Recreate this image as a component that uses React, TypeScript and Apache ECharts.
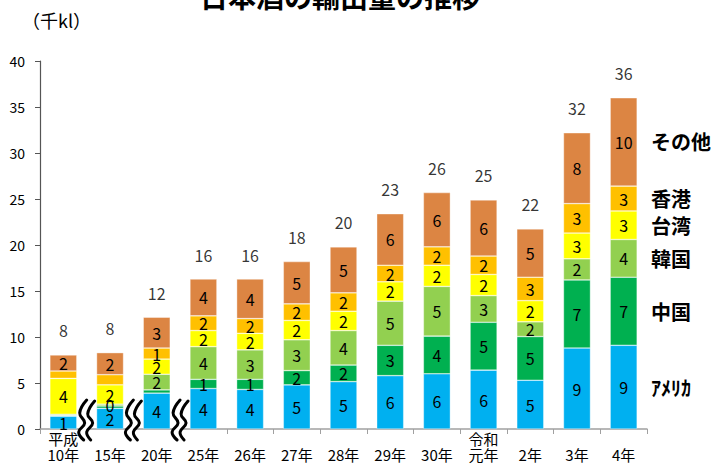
import React, { useEffect, useRef } from "react";
import * as echarts from "echarts";

const categories = [
  "平成\n10年", "\n15年", "\n20年", "\n25年", "\n26年", "\n27年", "\n28年",
  "\n29年", "\n30年", "令和\n元年", "\n2年", "\n3年", "\n4年",
];
const seriesNames = ["アメリカ", "中国", "韓国", "台湾", "香港", "その他"];
const annotationLabels = ["ｱﾒﾘｶ", "中国", "韓国", "台湾", "香港", "その他"];
const usa = [1.4, 2.25, 3.9, 4.4, 4.3, 4.8, 5.15, 5.8, 6.0, 6.4, 5.3, 8.8, 9.1];
const china = [0.1, 0.25, 0.35, 1.0, 1.1, 1.55, 1.8, 3.3, 4.1, 5.2, 4.75, 7.4, 7.4];
const korea = [0.1, 0.2, 1.7, 3.55, 3.2, 3.35, 3.75, 4.8, 5.4, 2.9, 1.6, 2.3, 4.1];
const taiwan = [3.9, 2.1, 1.65, 1.75, 1.8, 2.1, 2.1, 2.1, 2.3, 2.3, 2.3, 2.8, 3.1];
const hongkong = [0.8, 1.1, 1.2, 1.6, 1.6, 1.8, 2.0, 1.8, 2.0, 2.0, 2.55, 3.2, 2.7];
const others = [1.75, 2.4, 3.35, 4.0, 4.3, 4.6, 5.0, 5.6, 5.9, 6.1, 5.25, 7.7, 9.6];
const seriesValues = [usa, china, korea, taiwan, hongkong, others];
// [seriesIndex, categoryIndex] whose value label is not shown
const hiddenLabels = [[1, 0], [2, 0], [4, 0], [1, 1], [4, 1], [1, 2]];
// break marks sit between these category pairs
const breakAfter = [0, 1, 2];

const colors = ["#00B0F0", "#00B050", "#92D050", "#FFFF00", "#FFC000", "#DC8543"];
const FONT = "'Noto Sans CJK JP', 'Noto Sans', sans-serif";

// wavy break-mark outline (relative to the mark's centre)
const waveL = [[0, -20], [-7, -7], [-2, 3], [-8, 12], [-3, 20]];
const waveR = [[8, -19], [1, -6], [6, 3], [0, 12], [4, 20]];

export default function App() {
  const ref = useRef<HTMLDivElement>(null);
  useEffect(() => {
    if (!ref.current) return;
    const chart = echarts.init(ref.current, undefined, { renderer: "svg" });
    const totals = categories.map((_, i) => seriesValues.reduce((s, arr) => s + arr[i], 0));
    const series: any[] = seriesValues.map((vals, si) => ({
      name: seriesNames[si],
      type: "bar",
      stack: "total",
      barWidth: 27,
      itemStyle: { color: colors[si], borderColor: "rgba(255,255,255,0.6)", borderWidth: 0.6 },
      label: {
        show: true,
        position: "inside",
        color: "#000",
        fontSize: 16,
        fontFamily: FONT,
        formatter: (p: any) => String(Math.round(p.value)),
      },
      data: vals.map((v, ci) =>
        hiddenLabels.some((h) => h[0] === si && h[1] === ci)
          ? { value: v, label: { show: false } }
          : v
      ),
    }));
    series.push({
      name: "合計",
      type: "scatter",
      symbolSize: 1,
      itemStyle: { color: "rgba(0,0,0,0)" },
      label: {
        show: true,
        position: "top",
        distance: 16,
        color: "#000",
        fontSize: 16,
        fontFamily: FONT,
        formatter: (p: any) => String(Math.round(p.value)),
      },
      data: totals,
      z: 5,
    });

    chart.setOption({
      animation: false,
      grid: { left: 40, right: 66, top: 61, bottom: 37 },
      xAxis: {
        type: "category",
        data: categories,
        axisLine: { lineStyle: { color: "#A0A0A0", width: 1.5 } },
        axisTick: { show: true, length: 5, lineStyle: { color: "#A0A0A0" } },
        axisLabel: { color: "#000", fontSize: 15, lineHeight: 16, margin: 1, fontFamily: FONT },
      },
      yAxis: {
        type: "value",
        min: 0,
        max: 40,
        interval: 5,
        splitLine: { show: false },
        axisLine: { show: true, lineStyle: { color: "#555", width: 1.2 } },
        axisTick: { show: true, length: 5, lineStyle: { color: "#555" } },
        axisLabel: { color: "#000", fontSize: 14, margin: 15, fontFamily: FONT },
      },
      series,
    });

    const last = categories.length - 1;
    const graphics: any[] = [
      {
        type: "text",
        x: 340,
        y: -4,
        style: {
          text: "日本酒の輸出量の推移",
          fontSize: 28,
          fontWeight: "bold",
          fontFamily: FONT,
          fill: "#000",
          textAlign: "center",
          textVerticalAlign: "middle",
        },
      },
      {
        type: "text",
        x: 22,
        y: 20,
        style: {
          text: "（千kl）",
          fontSize: 18,
          fontFamily: FONT,
          fill: "#000",
          textAlign: "left",
          textVerticalAlign: "middle",
        },
      },
    ];
    let cum = 0;
    seriesValues.forEach((vals, si) => {
      const mid = cum + vals[last] / 2;
      cum += vals[last];
      const pt = chart.convertToPixel({ gridIndex: 0 }, [last, mid]) as number[];
      graphics.push({
        type: "text",
        x: 651,
        y: pt[1],
        style: {
          text: annotationLabels[si],
          fontSize: 20,
          fontWeight: "bold",
          fontFamily: FONT,
          fill: "#000",
          textAlign: "left",
          textVerticalAlign: "middle",
        },
      });
    });

    breakAfter.forEach((i) => {
      const a = chart.convertToPixel({ gridIndex: 0 }, [i, 0]) as number[];
      const b = chart.convertToPixel({ gridIndex: 0 }, [i + 1, 0]) as number[];
      const cx = (a[0] + b[0]) / 2;
      const cy = a[1] - 9;
      const L = waveL.map((p) => [cx + p[0], cy + p[1]]);
      const R = waveR.map((p) => [cx + p[0], cy + p[1]]);
      graphics.push({
        type: "polygon",
        z: 100,
        shape: { points: L.concat(R.slice().reverse()) },
        style: { fill: "#fff", stroke: "#e4e4e4", lineWidth: 0.5 },
      });
      [L, R].forEach((pts) => {
        graphics.push({
          type: "polyline",
          z: 101,
          shape: { points: pts, smooth: 0.45 },
          style: { stroke: "#000", lineWidth: 3, fill: null, lineJoin: "round", lineCap: "round" },
        });
      });
    });

    chart.setOption({ graphic: graphics });
    return () => chart.dispose();
  }, []);
  return (
    <div
      ref={ref}
      style={{ position: "fixed", left: 0, top: 0, width: 713, height: 466, background: "#fff" }}
    />
  );
}
